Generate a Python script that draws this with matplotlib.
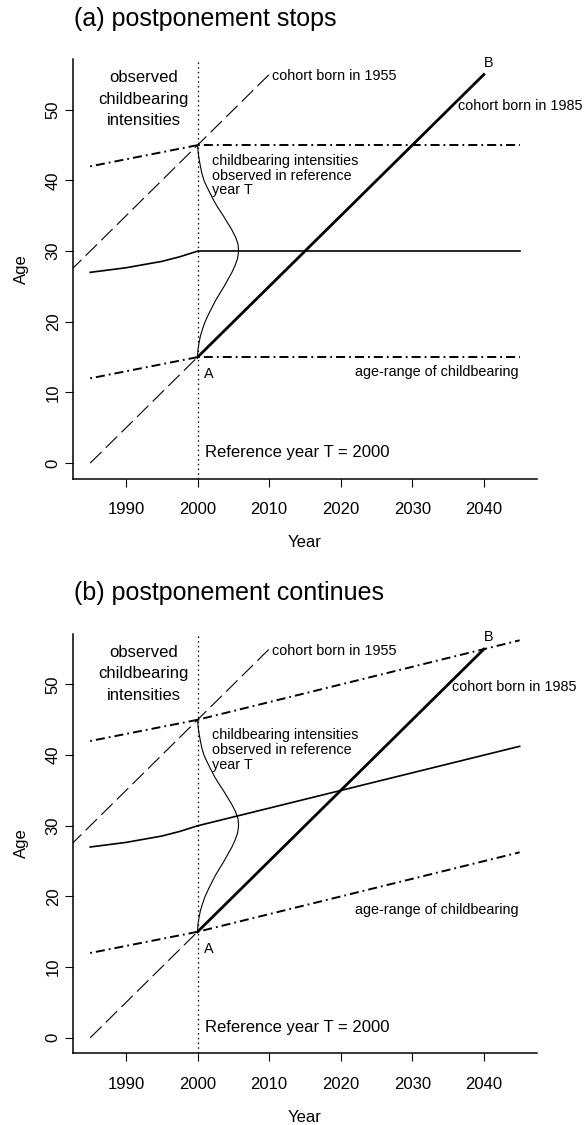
import matplotlib
matplotlib.use('Agg')  # headless
import matplotlib.pyplot as plt

plt.rcParams['font.family'] = ['Liberation Sans', 'DejaVu Sans']
plt.rcParams['lines.scale_dashes'] = False

# observed period (before reference year T = 2000)
years_obs = [1985, 1990, 1995, 1997.5, 2000]
mean_obs = [27.0, 27.65, 28.55, 29.2, 30.0]
upper_obs = [42.0, 43.0, 44.0, 44.5, 45.0]
lower_obs = [12.0, 13.0, 14.0, 14.5, 15.0]

# projection after T: (a) stops, (b) continues
years_proj = [2000, 2045]
mean_stop = [30.0, 30.0]
upper_stop = [45.0, 45.0]
lower_stop = [15.0, 15.0]
mean_cont = [30.0, 41.25]
upper_cont = [45.0, 56.25]
lower_cont = [15.0, 26.25]

# cohort lines
c1985_years_past = [1985, 2000]
c1985_ages_past = [0, 15]
c1985_years_fut = [2000, 2040]
c1985_ages_fut = [15, 55]
c1955_years = [1980, 2010]
c1955_ages = [25, 55]

# childbearing intensities observed in year T (horizontal offset in years)
dens_ages = [15, 16, 17, 18, 19, 20, 21, 22, 23, 24, 25, 26, 27, 28, 29, 30,
             31, 32, 33, 34, 35, 36, 37, 38, 39, 40, 41, 42, 43, 44, 45]
dens_vals = [0, 0.05, 0.2, 0.4, 0.7, 1.05, 1.5, 2.0, 2.5, 3.1, 3.7, 4.25, 4.8, 5.25, 5.6, 5.73,
             5.65, 5.3, 4.8, 4.2, 3.6, 2.95, 2.35, 1.85, 1.35, 0.9, 0.6, 0.4, 0.22, 0.08, 0]

ref_year = 2000
x_ticks = [1990, 2000, 2010, 2020, 2030, 2040]
y_ticks = [0, 10, 20, 30, 40, 50]

DASHDOT = (0, (1.3, 2.9, 6.5, 2.9))
DASHED = (0, (11.5, 4.3))
DOTTED = (0, (1.1, 2.3))


def draw_panel(ax, mean_proj, upper_proj, lower_proj, b_lab, c85_lab, range_lab):
    ax.set_xlim(1982.6, 2047.4)
    ax.set_ylim(-2.2, 57.2)

    ax.axvline(ref_year, color='black', lw=0.9, ls=DOTTED)

    ax.plot(years_obs, upper_obs, color='black', lw=1.4, ls=DASHDOT)
    ax.plot(years_obs, lower_obs, color='black', lw=1.4, ls=DASHDOT)
    ax.plot(years_proj, upper_proj, color='black', lw=1.4, ls=DASHDOT)
    ax.plot(years_proj, lower_proj, color='black', lw=1.4, ls=DASHDOT)

    ax.plot(years_obs, mean_obs, color='black', lw=1.2)
    ax.plot(years_proj, mean_proj, color='black', lw=1.2)

    ax.plot(c1955_years, c1955_ages, color='black', lw=0.8, ls=DASHED)
    ax.plot(c1985_years_past, c1985_ages_past, color='black', lw=0.8, ls=DASHED)
    ax.plot(c1985_years_fut, c1985_ages_fut, color='black', lw=2.0)

    ax.plot([ref_year + v for v in dens_vals], dens_ages, color='black', lw=0.8)

    ax.text(1992.5, 51.5, 'observed\nchildbearing\nintensities', ha='center', va='center',
            fontsize=12, linespacing=1.55)
    ax.text(2010.45, 54.8, 'cohort born in 1955', ha='left', va='center', fontsize=10.4)
    ax.text(2040.6, b_lab, 'B', ha='center', va='center', fontsize=10.4)
    ax.text(c85_lab[0], c85_lab[1], 'cohort born in 1985', ha='left', va='center', fontsize=10.4)
    ax.text(2002.0, 40.7, 'childbearing intensities\nobserved in reference\nyear T',
            ha='left', va='center', fontsize=10.4, linespacing=1.08)
    ax.text(2044.8, range_lab, 'age-range of childbearing', ha='right', va='center', fontsize=10.4)
    ax.text(2001.6, 12.6, 'A', ha='center', va='center', fontsize=10.4)
    ax.text(2001.0, 1.5, 'Reference year T = 2000', ha='left', va='center', fontsize=12)

    ax.spines['top'].set_visible(False)
    ax.spines['right'].set_visible(False)
    for s in ['left', 'bottom']:
        ax.spines[s].set_linewidth(1.1)
    ax.set_xticks(x_ticks)
    ax.set_yticks(y_ticks)
    ax.tick_params(axis='both', direction='out', length=6.1, width=0.8, labelsize=12)
    ax.tick_params(axis='x', pad=10.8)
    ax.tick_params(axis='y', pad=2.7, labelrotation=90)
    for lbl in ax.get_yticklabels():
        lbl.set_va('center')
    ax.set_xlabel('Year', fontsize=12, va='top')
    ax.xaxis.set_label_coords(0.5, -0.134)
    ax.set_ylabel('Age', fontsize=12)
    ax.yaxis.set_label_coords(-0.096, 0.5)


fig = plt.figure(figsize=(5.86, 11.25), dpi=100)
ax1 = fig.add_axes([0.1246, 0.5745, 0.7915, 0.3731])
ax2 = fig.add_axes([0.1246, 0.0637, 0.7915, 0.3731])

draw_panel(ax1, mean_stop, upper_stop, lower_stop, 56.6, (2036.45, 50.6), 12.9)
draw_panel(ax2, mean_cont, upper_cont, lower_cont, 56.7, (2035.6, 49.7), 18.1)

fig.text(74 / 586, 1 - 26 / 1125, '(a) postponement stops', fontsize=18, va='baseline')
fig.text(74 / 586, 1 - 600 / 1125, '(b) postponement continues', fontsize=18, va='baseline')

plt.savefig('out.png', dpi=100)
